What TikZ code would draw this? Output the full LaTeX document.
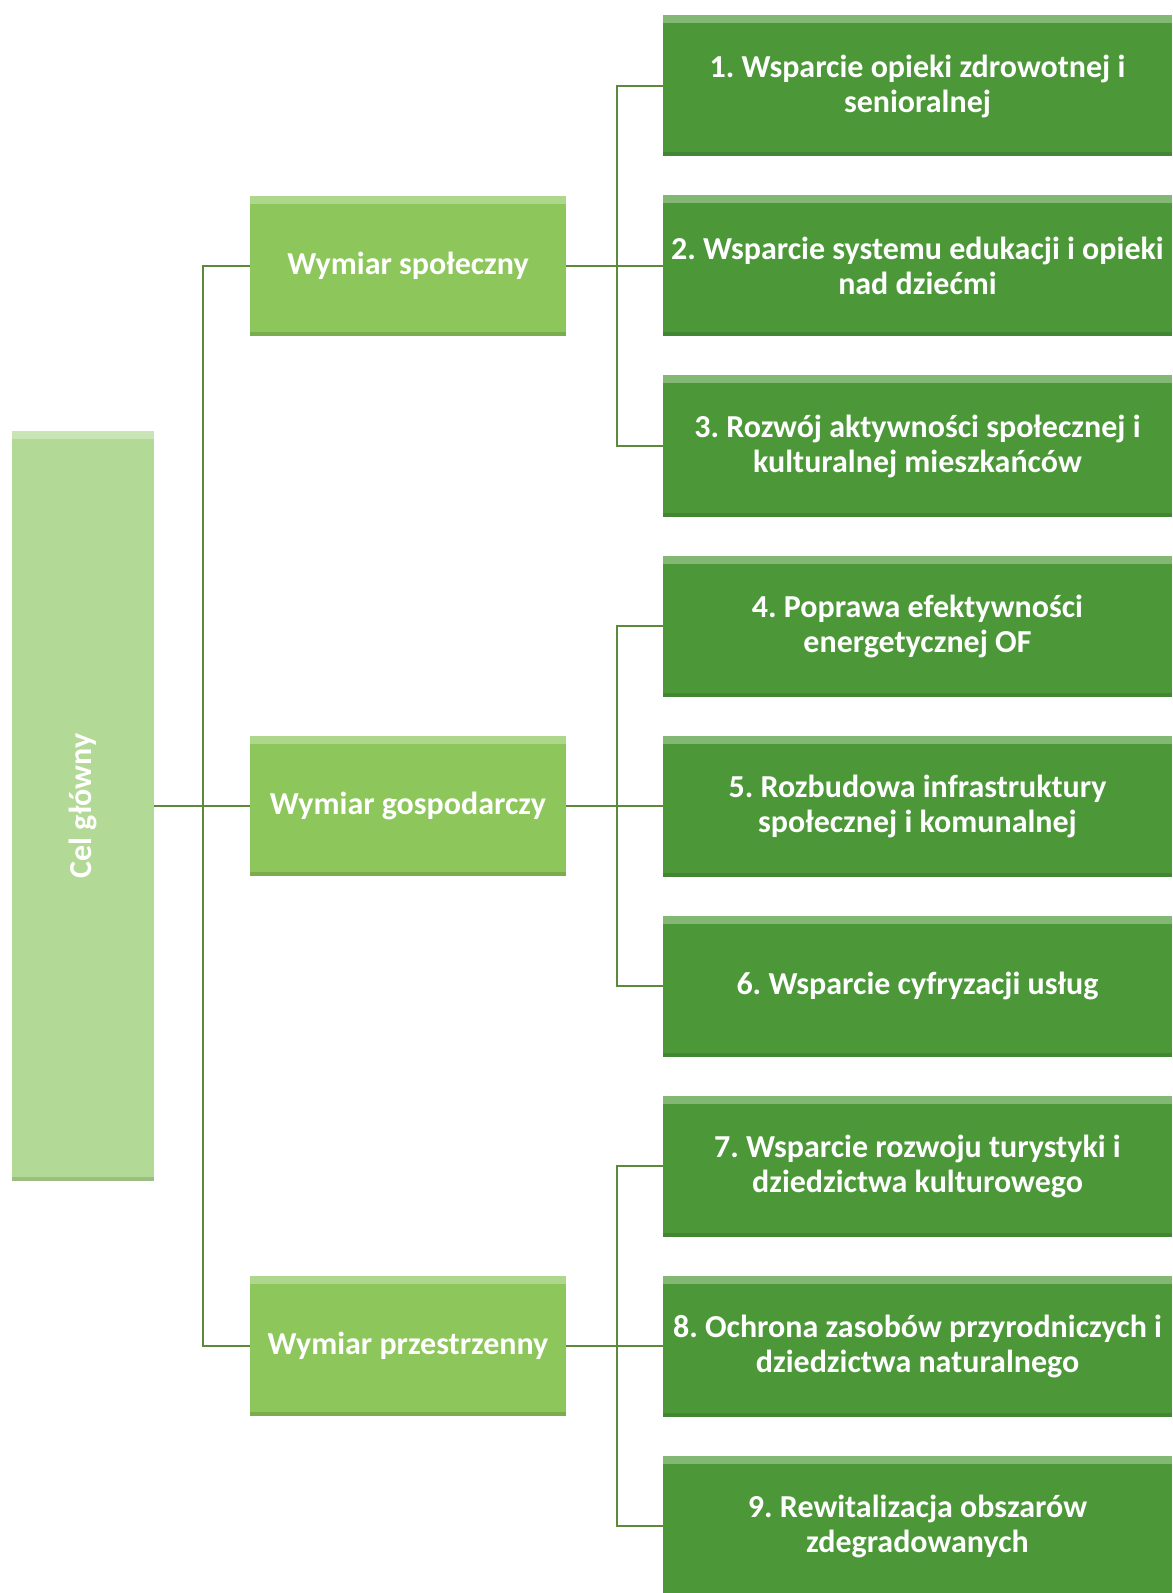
\documentclass[tikz,border=0pt]{standalone}
\usepackage{fontspec}
\setmainfont{Carlito}
\usepackage{tikz}
\usetikzlibrary{positioning}

\definecolor{celfill}{HTML}{B3D996}
\definecolor{wymfill}{HTML}{8DC65B}
\definecolor{celefill}{HTML}{4C9839}
\definecolor{linkcol}{HTML}{5A8A3A}

\begin{document}
\frenchspacing
\begin{tikzpicture}[x=1pt,y=-1pt,node distance=90pt]
  \tikzstyle{bevel}=[path picture={
      \fill[white,opacity=0.3] (path picture bounding box.north west)
        rectangle ([yshift=-4pt]path picture bounding box.north east);
      \fill[black,opacity=0.12] (path picture bounding box.south west)
        rectangle ([yshift=2pt]path picture bounding box.south east);}]
  \tikzstyle{box}=[rectangle,bevel,text=white,font=\fontsize{16}{17.5}\selectfont\bfseries,
                   align=center,inner sep=2pt]
  \tikzstyle{glowny}=[box,fill=celfill,minimum width=71pt,minimum height=375pt]
  \tikzstyle{wymiar}=[box,fill=wymfill,minimum width=158pt,minimum height=70pt]
  \tikzstyle{cel}=[box,fill=celefill,minimum width=254.5pt,minimum height=70.5pt]
  \tikzstyle{link}=[draw=linkcol,line width=0.8pt]

  \useasboundingbox (0,0) rectangle (586,796.5);

  \node[glowny] (g) at (41.5,403) {\rotatebox{90}{Cel główny}};

  \node[wymiar] (spo) at (204,133) {Wymiar społeczny};
  \node[wymiar] (gos) at (204,403) {Wymiar gospodarczy};
  \node[wymiar] (prz) at (204,673) {Wymiar przestrzenny};

  \node[cel] (c1) at (458.75,43) {1. Wsparcie opieki zdrowotnej i\\senioralnej};
  \node[cel] (c2) [below of=c1] {2. Wsparcie systemu edukacji i opieki\\nad dziećmi};
  \node[cel] (c3) [below of=c2] {3. Rozwój aktywności społecznej i\\kulturalnej mieszkańców};
  \node[cel] (c4) [below of=c3] {4. Poprawa efektywności\\energetycznej OF};
  \node[cel] (c5) [below of=c4] {5. Rozbudowa infrastruktury\\społecznej i komunalnej};
  \node[cel] (c6) [below of=c5] {6. Wsparcie cyfryzacji usług};
  \node[cel] (c7) [below of=c6] {7. Wsparcie rozwoju turystyki i\\dziedzictwa kulturowego};
  \node[cel] (c8) [below of=c7] {8. Ochrona zasobów przyrodniczych i\\dziedzictwa naturalnego};
  \node[cel] (c9) [below of=c8] {9. Rewitalizacja obszarów\\zdegradowanych};

  \coordinate (trunk) at (101.5,403);
  \coordinate (b1) at (308.5,133);
  \coordinate (b2) at (308.5,403);
  \coordinate (b3) at (308.5,673);

  \draw[link] (g.east) -- (gos.west);
  \draw[link] (spo.west) -| (trunk) |- (prz.west);
  \draw[link] (c1.west) -| (b1) |- (c3.west);
  \draw[link] (c4.west) -| (b2) |- (c6.west);
  \draw[link] (c7.west) -| (b3) |- (c9.west);
  \draw[link] (spo.east) -- (c2.west);
  \draw[link] (gos.east) -- (c5.west);
  \draw[link] (prz.east) -- (c8.west);
\end{tikzpicture}
\end{document}
